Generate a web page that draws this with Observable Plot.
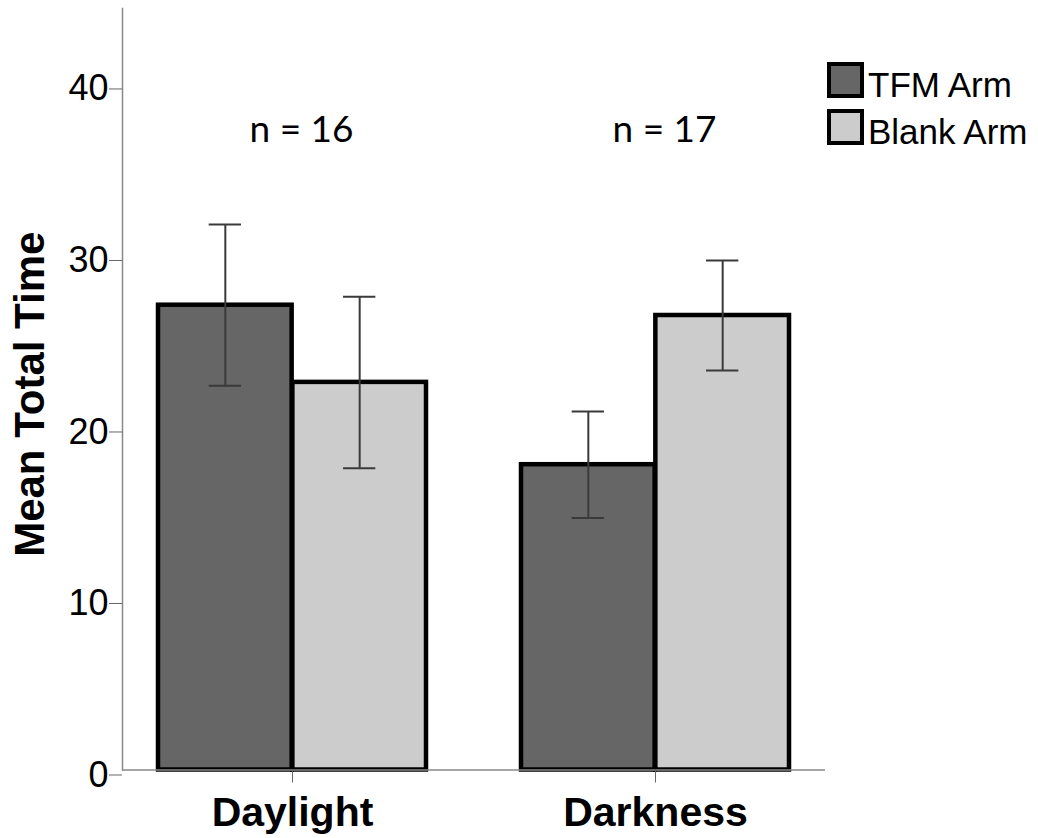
<!DOCTYPE html>
<html>
<head>
<meta charset="utf-8">
<script src="https://cdn.jsdelivr.net/npm/d3@7"></script>
<script src="https://cdn.jsdelivr.net/npm/@observablehq/plot@0.6"></script>
<style>
  html, body { margin: 0; padding: 0; background: #fff; }
  #wrap { position: relative; width: 1038px; height: 838px; overflow: hidden; }
  #wrap svg { position: absolute; left: 0; top: 0; }
  .sw { position: absolute; box-sizing: border-box; width: 37px; height: 36px; border: 4.5px solid #000; }
  .lt { position: absolute; font-family: "Liberation Sans", Arial, sans-serif; font-size: 35px; line-height: 35px; color: #000; white-space: nowrap; }
</style>
</head>
<body>
<div id="wrap"></div>
<script>
// ---- data ----
const groups = ["Daylight", "Darkness"];
const arms = ["TFM Arm", "Blank Arm"];
const armColors = ["#666666", "#cccccc"];
const tfmMean = [27.1, 17.8];
const tfmErr = [4.7, 3.1];
const blankMean = [22.6, 26.5];
const blankErr = [5.0, 3.2];
const nLabels = ["n = 16", "n = 17"];
const yTicks = [0, 10, 20, 30, 40];
const yLabel = "Mean Total Time";

// ---- layout / style ----
const W = 1038, H = 838;
const mL = 122, mR = 213, mT = 8, mB = 68.5;
const pIn = 0.2606, pOut = 0.0975;
const plotW = W - mL - mR;
const step = plotW / (groups.length - pIn + 2 * pOut);
const bw = step * (1 - pIn);
const capW = 33;
const font = "'Liberation Sans', Arial, sans-serif";

const tfmRows = groups.map((g, i) => ({group: g, mean: tfmMean[i], err: tfmErr[i]}));
const blankRows = groups.map((g, i) => ({group: g, mean: blankMean[i], err: blankErr[i]}));

const errMarks = (rows, side) => {
  const c = side < 0 ? bw / 4 : 3 * bw / 4; // cap centre within band
  const common = {x: "group", stroke: "#3a3a3a", strokeWidth: 2};
  return [
    Plot.ruleX(rows, {...common, y1: d => d.mean - d.err, y2: d => d.mean + d.err, dx: side * bw / 4}),
    Plot.tickY(rows, {...common, y: d => d.mean + d.err, insetLeft: c - capW / 2, insetRight: bw - c - capW / 2}),
    Plot.tickY(rows, {...common, y: d => d.mean - d.err, insetLeft: c - capW / 2, insetRight: bw - c - capW / 2})
  ];
};

const chart = Plot.plot({
  width: W, height: H,
  marginLeft: mL, marginRight: mR, marginTop: mT, marginBottom: mB,
  style: {fontFamily: font, background: "transparent", color: "#000"},
  x: {domain: groups, paddingInner: pIn, paddingOuter: pOut, label: null},
  y: {domain: [0, 44.4], label: null},
  marks: [
    Plot.barY(tfmRows, {x: "group", y: "mean", insetRight: bw / 2, fill: armColors[0], stroke: "#000", strokeWidth: 4.5}),
    Plot.barY(blankRows, {x: "group", y: "mean", insetLeft: bw / 2, fill: armColors[1], stroke: "#000", strokeWidth: 4.5}),
    Plot.ruleY([0], {stroke: "#888", strokeWidth: 1.5}),
    Plot.frame({anchor: "left", stroke: "#888", strokeWidth: 1.5}),
    ...errMarks(tfmRows, -1),
    ...errMarks(blankRows, 1),
    Plot.axisY({ticks: yTicks, tickSize: 13, tickPadding: 1, fontSize: 36, stroke: "#666", fill: "#000", dy: 5, label: null}),
    Plot.axisX({tickSize: 13, tickPadding: 14, fontSize: 41, fontWeight: "bold", stroke: "#666", fill: "#000", label: null}),
    Plot.text(groups, {x: d => d, text: (d, i) => nLabels[i], frameAnchor: "top", lineAnchor: "bottom", dy: 133.7, dx: 9, fontSize: 37, fontFamily: "Lato, 'Open Sans', sans-serif", fill: "#000"}),
    Plot.text([yLabel], {frameAnchor: "left", rotate: -90, dx: -79, dy: 5, lineAnchor: "bottom", textAnchor: "middle", fontSize: 42, fontWeight: "bold", fill: "#000"})
  ]
});

const wrap = document.getElementById("wrap");
wrap.appendChild(chart);

// ---- legend ----
const legendPos = [{sq: 61.7, tx: 67.1}, {sq: 108.5, tx: 113.7}];
arms.forEach((a, i) => {
  const sq = document.createElement("div");
  sq.className = "sw";
  sq.style.left = "827px";
  sq.style.top = legendPos[i].sq + "px";
  sq.style.background = armColors[i];
  wrap.appendChild(sq);
  const t = document.createElement("div");
  t.className = "lt";
  t.style.left = "868px";
  t.style.top = legendPos[i].tx + "px";
  t.textContent = a;
  wrap.appendChild(t);
});
</script>
</body>
</html>
